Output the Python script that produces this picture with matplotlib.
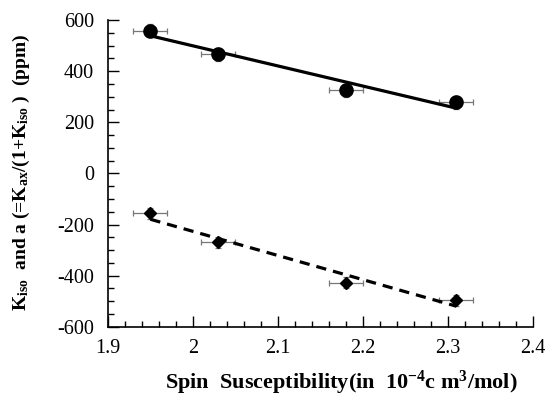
import numpy as np
import matplotlib
matplotlib.use("Agg")
import matplotlib.pyplot as plt
from matplotlib.ticker import MultipleLocator

# spin susceptibility (10^-4 cm^3/mol)
chi = [1.95, 2.03, 2.18, 2.31]
chi_err = [0.02, 0.02, 0.02, 0.02]

# K_iso (ppm), circles
k_iso = [558, 466, 326, 278]
k_iso_err = [25, 25, 25, 25]

# a = K_ax/(1+K_iso) (ppm), diamonds
a_val = [-156, -270, -428, -496]
a_err = [22, 22, 22, 22]

plt.rcParams['font.family'] = ['Liberation Serif', 'DejaVu Serif']
plt.rcParams['axes.unicode_minus'] = False
plt.rcParams['mathtext.fontset'] = 'custom'
plt.rcParams['mathtext.rm'] = 'Liberation Serif:bold'
plt.rcParams['mathtext.it'] = 'Liberation Serif:bold'
plt.rcParams['mathtext.bf'] = 'Liberation Serif:bold'

fig = plt.figure(figsize=(5.45, 4.03), dpi=100)
ax = fig.add_axes([0.198, 0.189, 0.780, 0.761])

x = np.array(chi)

# linear fits
p1 = np.polyfit(x, k_iso, 1)
p2 = np.polyfit(x, a_val, 1)
xf = np.array([x.min(), x.max()])
ax.plot(xf, np.polyval(p1, xf), color='black', lw=2.3, solid_capstyle='round', zorder=2)
ax.plot(xf, np.polyval(p2, xf), color='black', lw=2.3, dashes=(3.2, 2.2), zorder=2)

ax.errorbar(chi, k_iso, xerr=chi_err, yerr=k_iso_err, fmt='none', ecolor='#777777',
            elinewidth=0.9, capsize=2, capthick=0.9, zorder=1)
ax.errorbar(chi, a_val, xerr=chi_err, yerr=a_err, fmt='none', ecolor='#777777',
            elinewidth=0.9, capsize=2, capthick=0.9, zorder=1)
ax.plot(chi, k_iso, 'o', color='black', ms=9.5, zorder=3)
ax.plot(chi, a_val, 'D', color='black', ms=6.5, zorder=3)

ax.set_xlim(1.9, 2.4)
ax.set_ylim(-600, 600)
ax.xaxis.set_minor_locator(MultipleLocator(0.02))
ax.yaxis.set_major_locator(MultipleLocator(200))
ax.yaxis.set_minor_locator(MultipleLocator(50))
ax.set_xticks([1.9, 2.0, 2.1, 2.2, 2.3, 2.4])
ax.set_xticklabels(['1.9', '2', '2.1', '2.2', '2.3', '2.4'])

ax.spines['top'].set_visible(False)
ax.spines['right'].set_visible(False)
for s in ('left', 'bottom'):
    ax.spines[s].set_linewidth(1.2)

ax.tick_params(which='both', direction='in', labelsize=14.5, width=1.0)
ax.tick_params(which='major', length=8)
ax.tick_params(which='minor', length=4)
ax.tick_params(axis='y', pad=10)
ax.tick_params(axis='x', pad=9)

fig.text(0.039, 0.573,
         r'$\mathrm{K_{iso}}$  and a (=$\mathrm{K_{ax}}$/(1+$\mathrm{K_{iso}}$ )  (ppm)',
         rotation=90, ha='center', va='center', fontsize=14, fontweight='bold')
fig.text(0.626, 0.05,
         r'Spin  Susceptibility(in  10$^{-4}$c m$^{3}$/mol)',
         ha='center', va='center', fontsize=16, fontweight='bold')

fig.savefig('out.png', dpi=100)
